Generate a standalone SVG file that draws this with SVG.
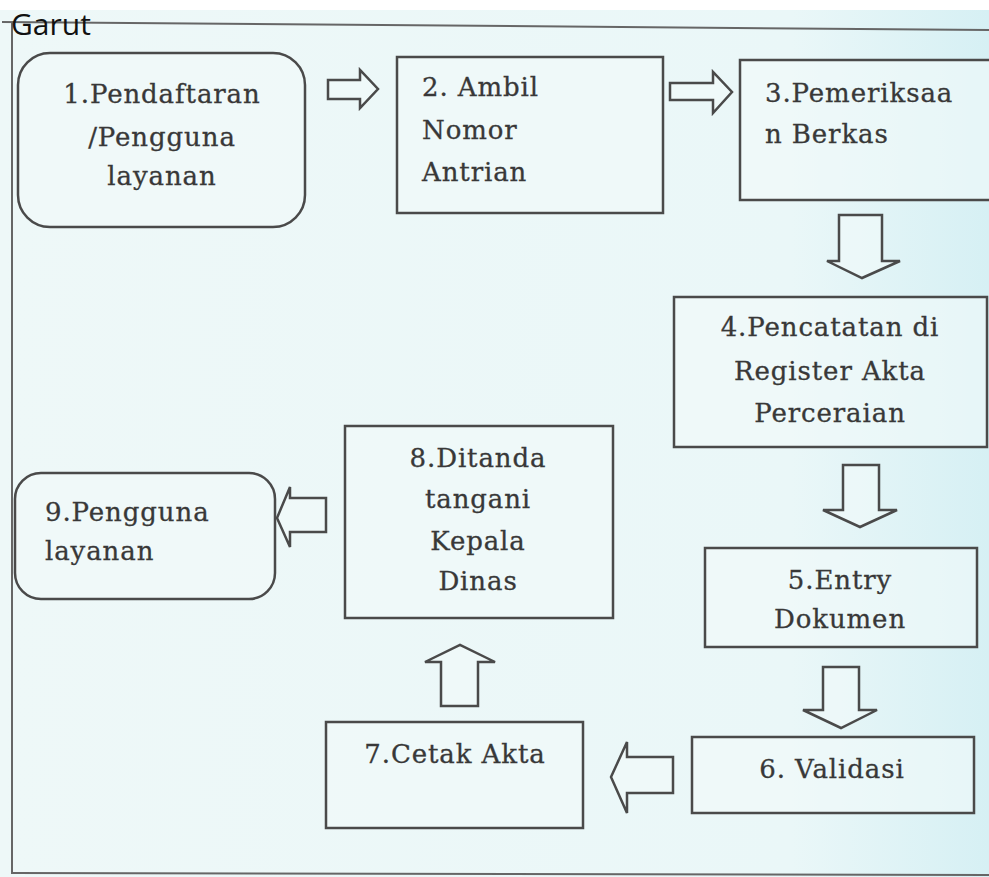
<svg xmlns="http://www.w3.org/2000/svg" width="989" height="877" viewBox="0 0 989 877">
  <defs>
    <linearGradient id="bg" x1="0" y1="0" x2="1" y2="0">
      <stop offset="0" stop-color="#eef8f8"/>
      <stop offset="0.8" stop-color="#eaf7f8"/>
      <stop offset="1" stop-color="#d6f0f4"/>
    </linearGradient>
    <style>
      .box { fill: #f2fafa; fill-opacity: 0.6; stroke: #4a4a4a; stroke-width: 2.5; }
      .arr { fill: #f2fafa; fill-opacity: 0.6; stroke: #4a4a4a; stroke-width: 2.5; stroke-linejoin: miter; }
      .frame { stroke: #666; stroke-width: 2; fill: none; }
      .t { font-family: "DejaVu Serif", "Liberation Serif", serif; font-size: 26px; fill: #383838; letter-spacing: 0.9px; stroke: #383838; stroke-width: 0.3px; }
      .c { text-anchor: middle; }
      .title { font-family: "Open Sans", "Noto Sans", sans-serif; font-size: 30px; fill: #111; }
    </style>
  </defs>

  <rect x="0" y="0" width="989" height="877" fill="#ffffff"/>
  <rect x="0" y="10" width="989" height="867" fill="url(#bg)"/>

  <g id="frame">
    <line class="frame" x1="2" y1="22" x2="989" y2="30"/>
    <line class="frame" x1="12" y1="22" x2="12" y2="874"/>
    <line class="frame" x1="12" y1="873" x2="989" y2="875"/>
  </g>

  <text class="title" x="11" y="35">Garut</text>

  <g id="connectors">
    <polygon class="arr" points="328,80 360,80 360,70 378,89 360,108 360,99 328,99"/>
    <polygon class="arr" points="670,83 713,83 713,72 732,92 713,113 713,100 670,100"/>
    <polygon class="arr" points="839,215 882,215 882,261 900,261 862,278 827,261 839,261"/>
    <polygon class="arr" points="843,465 879,465 879,510 897,510 860,527 823,510 843,510"/>
    <polygon class="arr" points="823,667 859,667 859,710 877,710 841,728 803,710 823,710"/>
    <polygon class="arr" points="673,757 673,793 627,793 627,813 611,777 627,742 627,757"/>
    <polygon class="arr" points="441,706 478,706 478,662 495,662 460,645 425,662 441,662"/>
    <polygon class="arr" points="326,498 326,532 290,532 290,547 277,518 290,487 290,498"/>
  </g>

  <g id="node1">
    <rect class="box" x="18" y="53" width="287" height="174" rx="32" ry="32"/>
    <text class="t c" x="162" y="103">1.Pendaftaran</text>
    <text class="t c" x="162" y="146">/Pengguna</text>
    <text class="t c" x="162" y="185">layanan</text>
  </g>

  <g id="node2">
    <rect class="box" x="397" y="57" width="266" height="156"/>
    <text class="t" x="422" y="96">2. Ambil</text>
    <text class="t" x="422" y="139">Nomor</text>
    <text class="t" x="422" y="181">Antrian</text>
  </g>

  <g id="node3">
    <rect class="box" x="740" y="60" width="262" height="140"/>
    <text class="t" x="765" y="102">3.Pemeriksaa</text>
    <text class="t" x="765" y="143">n Berkas</text>
  </g>

  <g id="node4">
    <rect class="box" x="674" y="297" width="313" height="150"/>
    <text class="t c" x="830" y="336">4.Pencatatan di</text>
    <text class="t c" x="830" y="380">Register Akta</text>
    <text class="t c" x="830" y="422">Perceraian</text>
  </g>

  <g id="node5">
    <rect class="box" x="705" y="548" width="272" height="99"/>
    <text class="t c" x="840" y="589">5.Entry</text>
    <text class="t c" x="840" y="628">Dokumen</text>
  </g>

  <g id="node6">
    <rect class="box" x="692" y="737" width="282" height="76"/>
    <text class="t c" x="832" y="778">6. Validasi</text>
  </g>

  <g id="node7">
    <rect class="box" x="326" y="722" width="257" height="106"/>
    <text class="t c" x="455" y="763">7.Cetak Akta</text>
  </g>

  <g id="node8">
    <rect class="box" x="345" y="426" width="268" height="192"/>
    <text class="t c" x="478" y="467">8.Ditanda</text>
    <text class="t c" x="478" y="508">tangani</text>
    <text class="t c" x="478" y="550">Kepala</text>
    <text class="t c" x="478" y="590">Dinas</text>
  </g>

  <g id="node9">
    <rect class="box" x="15" y="473" width="260" height="126" rx="26" ry="26"/>
    <text class="t" x="45" y="521">9.Pengguna</text>
    <text class="t" x="45" y="560">layanan</text>
  </g>
</svg>
